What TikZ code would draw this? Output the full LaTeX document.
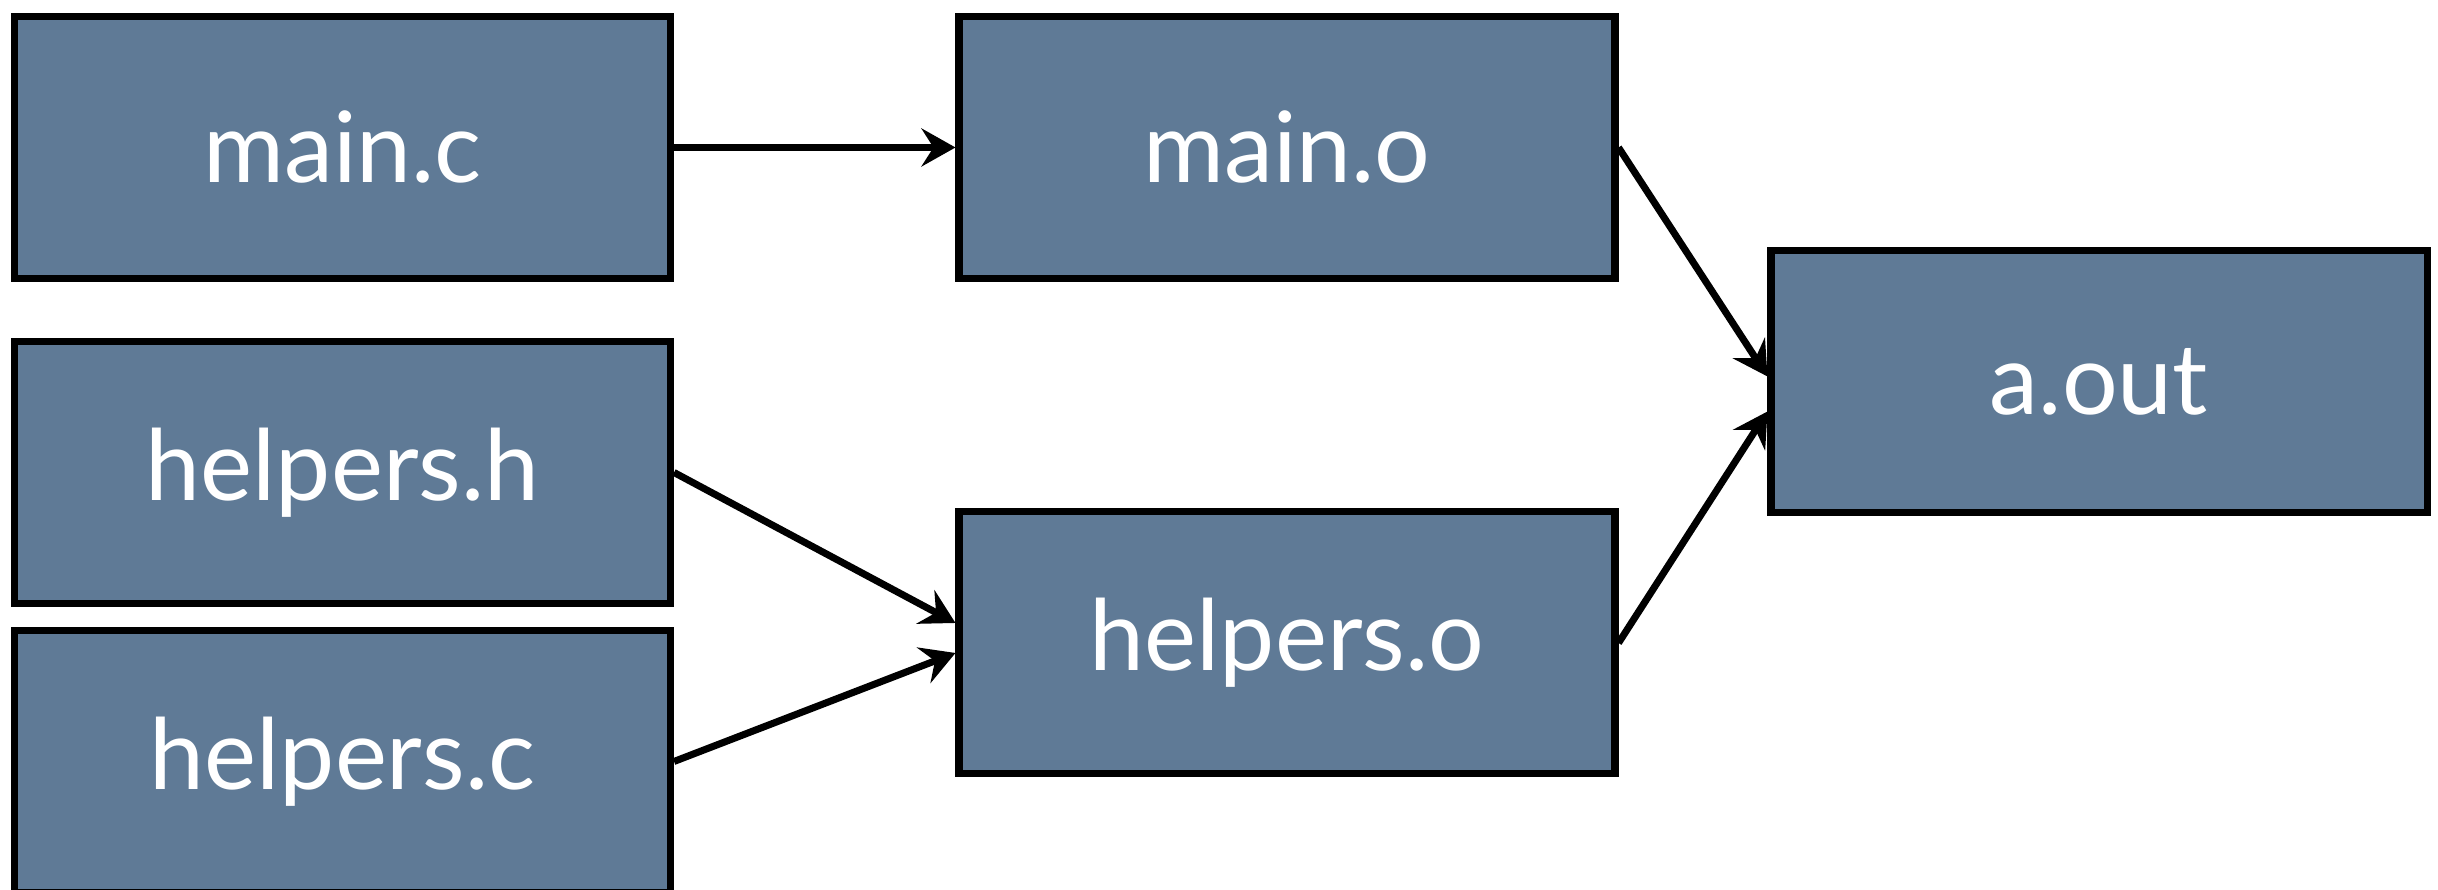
\documentclass[tikz,border=0pt]{standalone}
\usepackage{fontspec}
\setmainfont{Lato}
\usetikzlibrary{arrows.meta}
\definecolor{slateblue}{RGB}{95,122,150}

\begin{document}
\begin{tikzpicture}
  \tikzstyle{file}=[draw,line width=2pt,fill=slateblue,text=white,minimum width=6.56cm,minimum height=2.62cm,font=\fontsize{28}{33}\selectfont];
  \tikzstyle{dep}=[-{Stealth[length=3.4mm,width=3.8mm,inset=1.2mm]},line width=2pt];

  \useasboundingbox (0,0) rectangle (24.38,8.90);

  \node[file] (mainc) at (3.425,7.425) {main.c};
  \node[file] (helpersh) at (3.425,4.175) {helpers.h};
  \node[file] (helpersc) at (3.425,1.285) {helpers.c};
  \node[file] (maino) at (12.87,7.425) {main.o};
  \node[file] (helperso) at (12.87,2.47) {helpers.o};
  \node[file] (aout) at (20.99,5.085) {a.out};

  % compile : main.c => main.o
  \draw[dep] (mainc.east) -- (maino.west);

  % compile : helpers.h, helpers.c => helpers.o
  \draw[dep] (helpersh.east) -- ([yshift=0.2cm]helperso.west);
  \draw[dep] (helpersc.east) -- ([yshift=-0.1cm]helperso.west);

  % link : main.o, helpers.o => a.out
  \draw[dep] (maino.east) -- ([yshift=0.05cm]aout.west);
  \draw[dep] (helperso.east) -- ([yshift=-0.3cm]aout.west);

\end{tikzpicture}
\end{document}
